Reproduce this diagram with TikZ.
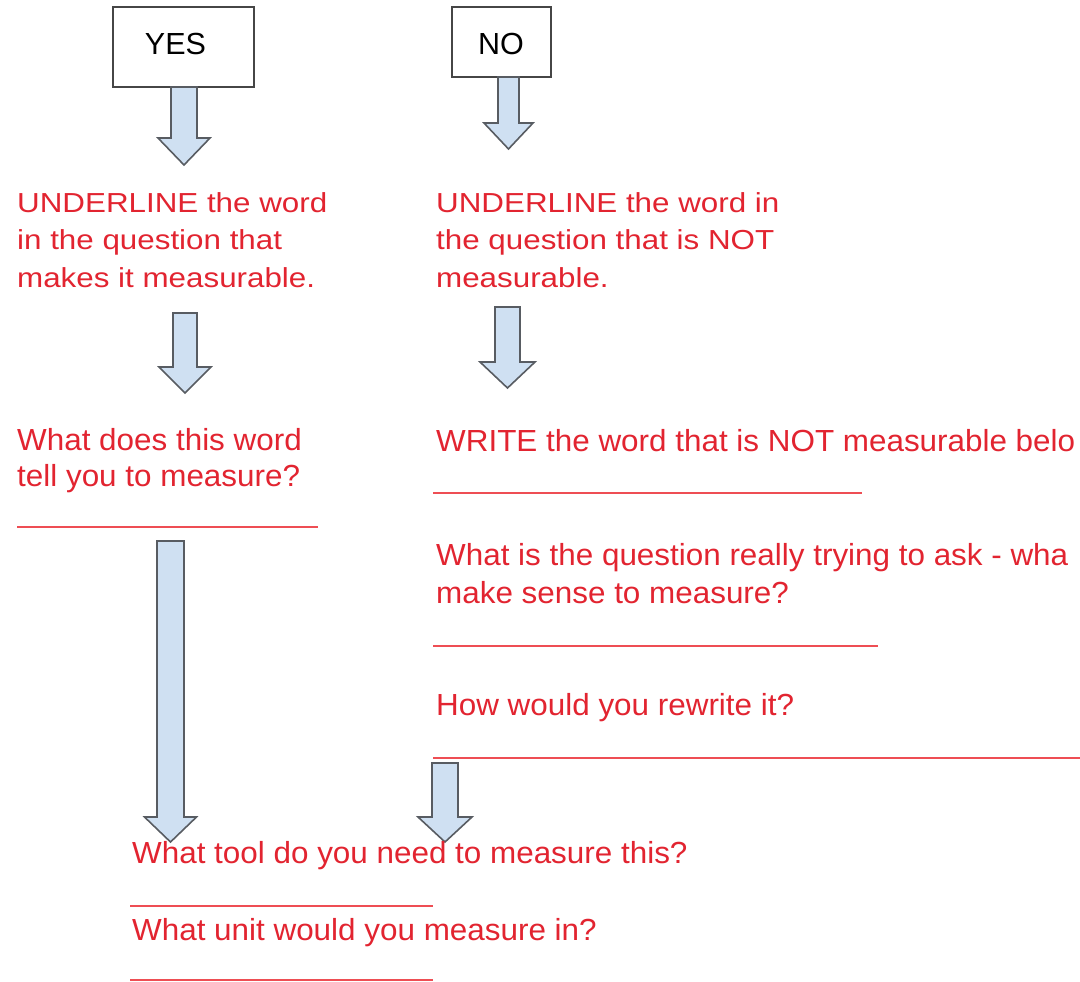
\documentclass[tikz,border=0pt]{standalone}
\usepackage{fontspec}
\setmainfont{Liberation Sans}
\usepackage{graphicx}
\definecolor{txtred}{RGB}{226,36,48}
\definecolor{linered}{RGB}{238,78,84}
\definecolor{arrowfill}{RGB}{207,224,242}
\definecolor{arrowdraw}{RGB}{88,92,98}
\definecolor{boxgray}{RGB}{70,70,70}
\newcommand{\tblock}[4]{\scalebox{#1}[1]{\fontsize{#2}{#3}\selectfont\begin{tabular}[t]{@{}l@{}}#4\end{tabular}}}
\newcommand{\mydownarrow}[6]{%
  \draw[barrow] (#1-#5,#2) -- (#1+#5,#2) -- (#1+#5,#3) -- (#1+#6,#3) -- (#1,#4) -- (#1-#6,#3) -- (#1-#5,#3) -- cycle;}
\begin{document}
\begin{tikzpicture}[x=1pt,y=-1pt,
  ansbox/.style={draw=boxgray,line width=1.5pt,fill=white,inner sep=0},
  blank/.style={draw=linered,line width=1.8pt},
  barrow/.style={draw=arrowdraw,fill=arrowfill,line width=1.6pt,line join=miter},
  redtxt/.style={text=txtred,anchor=base west,inner sep=0},
  lbl/.style={text=black,anchor=base,inner sep=0,font=\fontsize{30.5}{36}\selectfont}]
\useasboundingbox[fill=white] (0,0) rectangle (1080,982);

% answer boxes
\node[ansbox,minimum width=141pt,minimum height=80pt] (yes) at (183.5,47) {};
\node[ansbox,minimum width=99pt,minimum height=70pt] (no) at (501.5,42) {};
\node[lbl] (yeslbl) at (175.5,55) {YES};
\node[lbl] (nolbl) at (501,55) {NO};

% answer lines
\coordinate (l1a) at (17,527);  \coordinate (l1b) at (318,527);
\coordinate (l2a) at (433,493); \coordinate (l2b) at (862,493);
\coordinate (l3a) at (433,646); \coordinate (l3b) at (878,646);
\coordinate (l4a) at (433,758); \coordinate (l4b) at (1080,758);
\coordinate (l5a) at (130,906); \coordinate (l5b) at (433,906);
\coordinate (l6a) at (130,980); \coordinate (l6b) at (433,980);
\draw[blank] (l1a) -- (l1b);
\draw[blank] (l2a) -- (l2b);
\draw[blank] (l3a) -- (l3b);
\draw[blank] (l4a) -- (l4b);
\draw[blank] (l5a) -- (l5b);
\draw[blank] (l6a) -- (l6b);

% block arrows
\mydownarrow{184}{87}{138}{165}{13}{26}
\mydownarrow{508.5}{77}{123}{149}{10.5}{24.5}
\mydownarrow{185}{313}{367}{393}{12}{26}
\mydownarrow{507.5}{307}{362}{388}{12.5}{27.5}
\mydownarrow{170.5}{541}{817}{842}{13.5}{26}
\mydownarrow{445}{763}{817}{842}{13}{27}

% texts
\node[redtxt] (ta) at (17,212) {\tblock{1.14}{27.5}{37.5}{UNDERLINE the word\\in the question that\\makes it measurable.}};
\node[redtxt] (tb) at (436,212) {\tblock{1.14}{27.5}{37.5}{UNDERLINE the word in\\the question that is NOT\\measurable.}};
\node[redtxt] (tc) at (17,450) {\tblock{1.03}{30.5}{36}{What does this word\\tell you to measure?}};
\node[redtxt] (td) at (436,451) {\tblock{1.03}{30.5}{38}{WRITE the word that is NOT measurable belo}};
\node[redtxt] (te) at (436,565) {\tblock{1.03}{30.5}{38}{What is the question really trying to ask - wha\\make sense to measure?}};
\node[redtxt] (tf) at (436,715) {\tblock{1.03}{30.5}{38}{How would you rewrite it?}};
\node[redtxt] (tg) at (132,863) {\tblock{1.03}{30.5}{38}{What tool do you need to measure this?}};
\node[redtxt] (th) at (132,940) {\tblock{1.03}{30.5}{38}{What unit would you measure in?}};
\end{tikzpicture}
\end{document}
